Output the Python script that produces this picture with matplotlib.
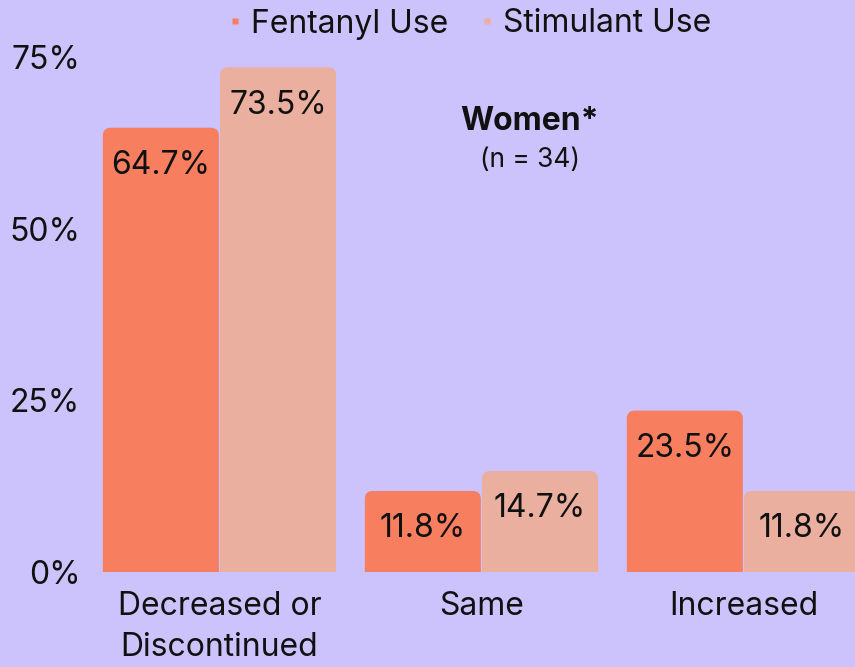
import matplotlib
matplotlib.use("Agg")
import matplotlib.pyplot as plt
from matplotlib.patches import FancyBboxPatch
from matplotlib.lines import Line2D
import numpy as np

# data
categories = ["Decreased or\nDiscontinued", "Same", "Increased"]
series_names = ["Fentanyl Use", "Stimulant Use"]
fentanyl = [64.7, 11.8, 23.5]
stimulant = [73.5, 14.7, 11.8]
yticks = [0, 25, 50, 75]

bg = "#CCC3FC"
colors = ["#F77F60", "#EBAFA0"]

plt.rcParams["font.family"] = ["Inter", "DejaVu Sans"]

fig = plt.figure(figsize=(8.55, 6.67), dpi=100)
fig.patch.set_facecolor(bg)
ax = fig.add_axes([90 / 855, 95 / 667, 765 / 855, 515 / 667])
ax.set_facecolor(bg)

x = np.arange(len(categories))
w = 0.443
ax.set_xlim(-0.494, 2.426)
ax.set_ylim(0, 75)

# pixels per data unit, used to round the bar tops evenly
px_x = 765 / (2.426 + 0.494)
px_y = 515 / 75
radius_px = 8

for i, (vals, col) in enumerate(zip([fentanyl, stimulant], colors)):
    offs = (i - 0.5) * (w + 0.004)
    bars = ax.bar(x + offs, vals, width=w, color=col)
    for b, v in zip(bars, vals):
        b.set_visible(False)
        rs = radius_px / px_x
        patch = FancyBboxPatch((b.get_x(), -5), b.get_width(), b.get_height() + 5,
                               boxstyle=f"round,pad=0,rounding_size={rs}",
                               mutation_aspect=px_x / px_y,
                               facecolor=col, edgecolor="none", clip_on=True)
        ax.add_patch(patch)
        ax.annotate(f"{v:.1f}%", (b.get_x() + b.get_width() / 2, v),
                    xytext=(0, -16), textcoords="offset points",
                    ha="center", va="top", fontsize=23, color="#111111")

for s in ax.spines.values():
    s.set_visible(False)
ax.set_yticks(yticks)
ax.set_yticklabels([f"{t}%" for t in yticks])
ax.set_xticks(x)
ax.set_xticklabels(categories, linespacing=1.4)
ax.tick_params(axis="y", length=0, pad=7, labelsize=23, labelcolor="#111111")
ax.tick_params(axis="x", length=0, pad=14, labelsize=23, labelcolor="#111111")

ax.text(0.575, 0.874, "Women*", transform=ax.transAxes, ha="center", va="center",
        fontsize=23, fontweight="bold", color="#111111")
ax.text(0.575, 0.80, "(n = 34)", transform=ax.transAxes, ha="center", va="center",
        fontsize=19, color="#111111")

handles = [Line2D([], [], marker="s", linestyle="none", markersize=5,
                  markerfacecolor=c, markeredgecolor="none") for c in colors]
fig.legend(handles, series_names, loc="center", bbox_to_anchor=(470 / 855, 1 - 24 / 667),
           ncol=2, frameon=False, fontsize=23, handlelength=0.4, handletextpad=0.3,
           columnspacing=1.0, labelcolor="#111111")

fig.savefig("out.png", dpi=100, facecolor=bg)
